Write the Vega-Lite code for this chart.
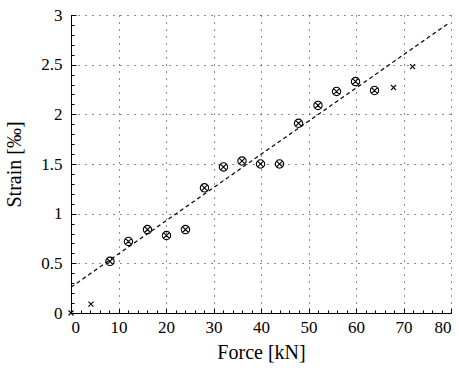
{
  "$schema": "https://vega.github.io/schema/vega-lite/v6.json",
  "width": 380,
  "height": 298,
  "autosize": {"type": "none"},
  "padding": {"left": 71, "top": 15, "right": 8, "bottom": 58},
  "background": "white",
  "config": {
    "view": {"stroke": null},
    "font": "Liberation Serif",
    "axis": {
      "labelFont": "Liberation Serif",
      "titleFont": "Liberation Serif",
      "labelFontSize": 17,
      "titleFontSize": 20,
      "titleFontWeight": "normal",
      "labelColor": "black",
      "titleColor": "black",
      "domainColor": "black",
      "tickColor": "black",
      "gridColor": "black",
      "gridDash": [1, 6],
      "gridOpacity": 0.9,
      "domainWidth": 1,
      "tickWidth": 1,
      "labelOverlap": false
    }
  },
  "datasets": {
    "pts": [
      {"force": 0, "strain": 0.0, "marker": "x"},
      {"force": 4.2, "strain": 0.09, "marker": "x"},
      {"force": 8.2, "strain": 0.52, "marker": "o"},
      {"force": 12.1, "strain": 0.72, "marker": "o"},
      {"force": 16.1, "strain": 0.84, "marker": "o"},
      {"force": 20.1, "strain": 0.78, "marker": "o"},
      {"force": 24.1, "strain": 0.84, "marker": "o"},
      {"force": 28.1, "strain": 1.26, "marker": "o"},
      {"force": 32.1, "strain": 1.47, "marker": "o"},
      {"force": 36.0, "strain": 1.53, "marker": "o"},
      {"force": 39.9, "strain": 1.50, "marker": "o"},
      {"force": 43.9, "strain": 1.50, "marker": "o"},
      {"force": 47.9, "strain": 1.91, "marker": "o"},
      {"force": 52.0, "strain": 2.09, "marker": "o"},
      {"force": 55.9, "strain": 2.23, "marker": "o"},
      {"force": 59.9, "strain": 2.33, "marker": "o"},
      {"force": 63.9, "strain": 2.24, "marker": "o"},
      {"force": 67.9, "strain": 2.27, "marker": "x"},
      {"force": 71.9, "strain": 2.48, "marker": "x"}
    ],
    "fit": [
      {"force": 0, "strain": 0.26},
      {"force": 79.6, "strain": 2.92}
    ]
  },
  "layer": [
    {
      "data": {"name": "fit"},
      "mark": {"type": "line", "stroke": "black", "strokeDash": [4, 3], "strokeWidth": 1.2},
      "encoding": {
        "x": {
          "field": "force", "type": "quantitative",
          "scale": {"domain": [0, 80], "nice": false, "zero": false},
          "axis": {
            "orient": "bottom",
            "values": [0,2,4,6,8,10,12,14,16,18,20,22,24,26,28,30,32,34,36,38,40,42,44,46,48,50,52,54,56,58,60,62,64,66,68,70,72,74,76,78,80],
            "labels": false, "grid": false, "domain": false, "tickSize": -3, "title": null
          }
        },
        "y": {
          "field": "strain", "type": "quantitative",
          "scale": {"domain": [0, 3], "nice": false, "zero": false},
          "axis": {
            "orient": "left",
            "values": [0,0.1,0.2,0.3,0.4,0.5,0.6,0.7,0.8,0.9,1,1.1,1.2,1.3,1.4,1.5,1.6,1.7,1.8,1.9,2,2.1,2.2,2.3,2.4,2.5,2.6,2.7,2.8,2.9,3],
            "labels": false, "grid": false, "domain": false, "tickSize": -3, "title": null
          }
        }
      }
    },
    {
      "data": {"name": "pts"},
      "mark": {"type": "point", "filled": false, "stroke": "black", "strokeWidth": 1.1, "size": 70, "opacity": 1},
      "encoding": {
        "x": {
          "field": "force", "type": "quantitative",
          "axis": {
            "orient": "bottom",
            "values": [0, 10, 20, 30, 40, 50, 60, 70, 80],
            "format": "d",
            "grid": true, "tickSize": -5, "labelPadding": 11,
            "title": "Force [kN]", "titlePadding": 7
          }
        },
        "y": {
          "field": "strain", "type": "quantitative",
          "axis": {
            "orient": "left",
            "values": [0, 0.5, 1, 1.5, 2, 2.5, 3],
            "format": "~g",
            "grid": true, "tickSize": -5, "labelPadding": 14,
            "title": "Strain [‰]", "titlePadding": 16
          }
        },
        "shape": {
          "field": "marker", "type": "nominal",
          "scale": {
            "domain": ["o", "x"],
            "range": [
              "M1,0A1,1,0,1,1,-1,0A1,1,0,1,1,1,0ZM-0.7,-0.7L0.7,0.7M-0.7,0.7L0.7,-0.7",
              "M-0.6,-0.6L0.6,0.6M-0.6,0.6L0.6,-0.6"
            ]
          },
          "legend": null
        }
      }
    }
  ],
  "resolve": {"axis": {"x": "independent", "y": "independent"}}
}
